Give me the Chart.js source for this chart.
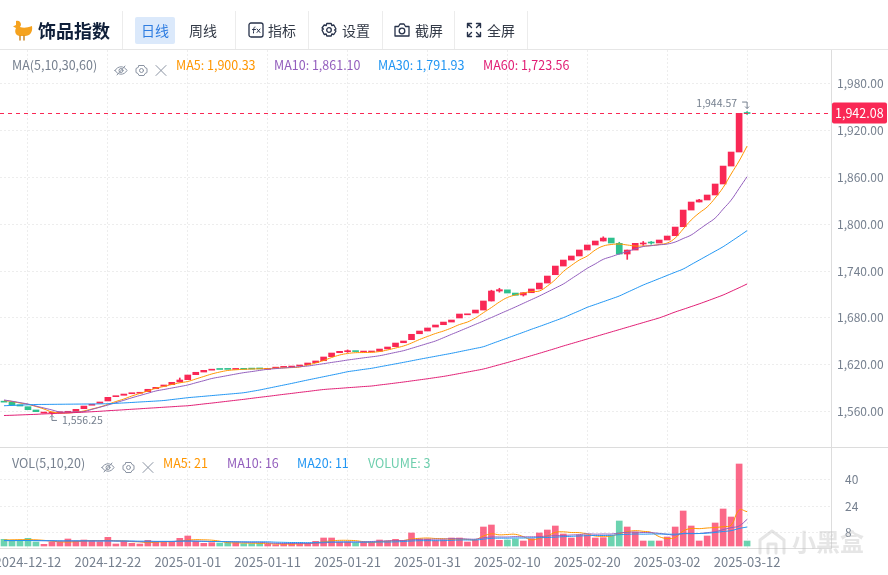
<!DOCTYPE html>
<html lang="zh">
<head>
<meta charset="utf-8">
<title>饰品指数</title>
<script src="https://cdn.jsdelivr.net/npm/chart.js@4"></script>
<style>
	html, body { margin: 0; padding: 0; background: #fff; overflow: hidden; }
	body { position: relative; width: 888px; height: 575px; font-family: 'Noto Sans CJK SC', 'Noto Sans', sans-serif; }
	canvas { position: absolute; left: 0; top: 0; }
	.abs { position: absolute; white-space: nowrap; }
	.div { position: absolute; top: 11px; width: 1px; height: 38px; background: #ececec; }
	.tool { position: absolute; top: 20px; font-size: 14px; line-height: 20px; color: #333a47; white-space: nowrap; }
	.leg { position: absolute; font-size: 12.5px; line-height: 16px; white-space: nowrap; color: #76808f; }
	svg { position: absolute; fill: none; stroke-linecap: round; stroke-linejoin: round; }
</style>
</head>
<body>
<canvas id="myChart" width="888" height="575"></canvas>

<div class="abs" style="left:0;top:49px;width:888px;height:1px;background:#e6e6e6"></div>
<div class="abs" style="left:0;top:447px;width:888px;height:1px;background:#dcdcdc"></div>

<svg style="left:11px;top:19px" width="23" height="22" viewBox="0 0 23 22">
	<path d="M5 2c3-1 5 1 5 4L9 8c3 1 7 1 12-1 1 6-2 10-7 10H9C5 17 3 13 5 9L2 7.500 5 6z" fill="#f5a21e" stroke="none"/>
	<path d="M9 17v4M13 17v4" stroke="#c9801a" stroke-width="1.400"/>
</svg>
<div class="abs" style="left:38px;top:17px;font-size:18px;line-height:26px;font-weight:700;color:#10203a">饰品指数</div>
<div class="div" style="left:122px"></div>
<div class="abs" style="left:135px;top:17px;width:40px;height:27px;border-radius:2px;background:#dbe9fb"></div>
<div class="tool" style="left:141px;color:#2f7de1">日线</div>
<div class="tool" style="left:189px">周线</div>
<div class="div" style="left:235px"></div>
<svg style="left:248px;top:22px" width="16" height="16" viewBox="0 0 16 16" stroke="#27324a" stroke-width="1.300">
	<rect x="1" y="1" width="14" height="14" rx="2"/>
	<path d="M7 5c-1.300 0-1.300 1-1.500 6M4.500 7.500h3M9 7l3 3.500M12 7l-3 3.500" stroke-width="1"/>
</svg>
<div class="tool" style="left:268px">指标</div>
<div class="div" style="left:308px"></div>
<svg style="left:321px;top:22px" width="16" height="16" viewBox="0 0 16 16" stroke="#27324a" stroke-width="1.300">
	<path d="M5.800 1.500h4.400l.6 2 2-.5 2.200 4-1.500 1 1.500 1-2.200 3.500-2-.5-.6 2H5.800l-.6-2-2 .5L1 8l1.500-1L1 6l2.200-3 2 .5z"/>
	<circle cx="8" cy="8" r="2.300"/>
</svg>
<div class="tool" style="left:342px">设置</div>
<div class="div" style="left:382px"></div>
<svg style="left:394px;top:22px" width="16" height="16" viewBox="0 0 16 16" stroke="#27324a" stroke-width="1.300">
	<path d="M1 4.500h3.500L6 2h4l1.500 2.500H15V14H1z"/>
	<circle cx="8" cy="9" r="2.800"/>
</svg>
<div class="tool" style="left:415px">截屏</div>
<div class="div" style="left:454px"></div>
<svg style="left:466px;top:22px" width="16" height="16" viewBox="0 0 16 16" stroke="#27324a" stroke-width="1.400">
	<path d="M1.500 5.500v-4h4M1.500 1.500l4 4M14.500 5.500v-4h-4M14.500 1.500l-4 4M1.500 10.500v4h4M1.500 14.500l4-4M14.500 10.500v4h-4M14.500 14.500l-4-4"/>
</svg>
<div class="tool" style="left:487px">全屏</div>
<div class="div" style="left:527px"></div>

<div class="leg" style="left:12px;top:57px">MA(5,10,30,60)</div>
<svg style="left:114px;top:64px" width="54" height="13" viewBox="0 0 54 13" stroke="#8a93a2" stroke-width="1">
	<path d="M1 6.500c3-5 9-5 12 0-3 5-9 5-12 0zM3 11l8-9"/>
	<circle cx="7" cy="6.500" r="2"/>
	<circle cx="27.500" cy="6.500" r="2"/>
	<path d="M25 1.500h5l1 2 2 1v4l-2 1-1 2h-5l-1-2-2-1v-4l2-1zM42 1.500l10 10M52 1.500l-10 10"/>
</svg>
<div class="leg" style="left:176px;top:57px;color:#ff9600">MA5: 1,900.33</div>
<div class="leg" style="left:274px;top:57px;color:#935ebd">MA10: 1,861.10</div>
<div class="leg" style="left:378px;top:57px;color:#2196f3">MA30: 1,791.93</div>
<div class="leg" style="left:483px;top:57px;color:#e11d74">MA60: 1,723.56</div>

<div class="leg" style="left:12px;top:455px">VOL(5,10,20)</div>
<svg style="left:101px;top:461px" width="54" height="13" viewBox="0 0 54 13" stroke="#8a93a2" stroke-width="1">
	<path d="M1 6.500c3-5 9-5 12 0-3 5-9 5-12 0zM3 11l8-9"/>
	<circle cx="7" cy="6.500" r="2"/>
	<circle cx="27.500" cy="6.500" r="2"/>
	<path d="M25 1.500h5l1 2 2 1v4l-2 1-1 2h-5l-1-2-2-1v-4l2-1zM42 1.500l10 10M52 1.500l-10 10"/>
</svg>
<div class="leg" style="left:163px;top:455px;color:#ff9600">MA5: 21</div>
<div class="leg" style="left:227px;top:455px;color:#935ebd">MA10: 16</div>
<div class="leg" style="left:297px;top:455px;color:#2196f3">MA20: 11</div>
<div class="leg" style="left:368px;top:455px;color:#6fcfae">VOLUME: 3</div>

<svg style="left:757px;top:529px" width="30" height="26" viewBox="0 0 30 26" stroke="rgba(190,190,190,0.4)" stroke-width="3">
	<path d="M3 24V11L15 2l12 9v13M11 24v-9h8v9"/>
</svg>
<div class="abs" style="left:792px;top:526px;font-size:24px;line-height:30px;font-weight:700;color:rgba(190,190,190,0.38)">小黑盒</div>

<script>
const dates = [
	'2024-12-09', '2024-12-10', '2024-12-11', '2024-12-12', '2024-12-13', '2024-12-14', '2024-12-15', '2024-12-16', '2024-12-17', '2024-12-18',
	'2024-12-19', '2024-12-20', '2024-12-21', '2024-12-22', '2024-12-23', '2024-12-24', '2024-12-25', '2024-12-26', '2024-12-27', '2024-12-28',
	'2024-12-29', '2024-12-30', '2024-12-31', '2025-01-01', '2025-01-02', '2025-01-03', '2025-01-04', '2025-01-05', '2025-01-06', '2025-01-07',
	'2025-01-08', '2025-01-09', '2025-01-10', '2025-01-11', '2025-01-12', '2025-01-13', '2025-01-14', '2025-01-15', '2025-01-16', '2025-01-17',
	'2025-01-18', '2025-01-19', '2025-01-20', '2025-01-21', '2025-01-22', '2025-01-23', '2025-01-24', '2025-01-25', '2025-01-26', '2025-01-27',
	'2025-01-28', '2025-01-29', '2025-01-30', '2025-01-31', '2025-02-01', '2025-02-02', '2025-02-03', '2025-02-04', '2025-02-05', '2025-02-06',
	'2025-02-07', '2025-02-08', '2025-02-09', '2025-02-10', '2025-02-11', '2025-02-12', '2025-02-13', '2025-02-14', '2025-02-15', '2025-02-16',
	'2025-02-17', '2025-02-18', '2025-02-19', '2025-02-20', '2025-02-21', '2025-02-22', '2025-02-23', '2025-02-24', '2025-02-25', '2025-02-26',
	'2025-02-27', '2025-02-28', '2025-03-01', '2025-03-02', '2025-03-03', '2025-03-04', '2025-03-05', '2025-03-06', '2025-03-07', '2025-03-08',
	'2025-03-09', '2025-03-10', '2025-03-11', '2025-03-12',
]
// empty room right of the last candle
const blankSlots = ['', '', '', '', '', '', '', '', '', '']

const opens = [
	1573, 1572.2, 1568.7, 1566.2, 1562, 1558, 1558, 1558.4, 1559, 1560,
	1563.6, 1568, 1570.5, 1573.5, 1579, 1580.8, 1582.8, 1583.4, 1585.4, 1589.2,
	1592.3, 1594.4, 1597.8, 1600.8, 1607.2, 1610.6, 1613, 1614.2, 1614.5, 1614,
	1615, 1614.8, 1614.9, 1614.1, 1615.6, 1616.6, 1617, 1618.3, 1620, 1622.6,
	1625.1, 1630.3, 1635.4, 1636.7, 1637.6, 1636.2, 1636.3, 1637.2, 1640.2, 1643.1,
	1648.2, 1652.1, 1659.7, 1663.2, 1668.3, 1671.3, 1674.7, 1679.9, 1684, 1686.3,
	1690.1, 1701.7, 1714.5, 1716, 1711.9, 1709.4, 1712.3, 1717.1, 1724.7, 1735.4,
	1746.5, 1754.2, 1759.4, 1767.1, 1773.5, 1778.6, 1782.4, 1775.6, 1761.9, 1767,
	1774.8, 1776.6, 1776, 1779.9, 1785.4, 1796.9, 1818.3, 1828.6, 1831.2, 1837.6,
	1851.7, 1874.7, 1892.7, 1942.6,
]
const closes = [
	1572, 1568, 1567, 1562.3, 1559.8, 1558.7, 1558.8, 1559, 1560, 1562.8,
	1567, 1569.2, 1572.2, 1578.2, 1580, 1582.4, 1583.7, 1584.2, 1588.5, 1591,
	1594, 1597.4, 1600.4, 1606.8, 1610.3, 1612.8, 1613.8, 1613.9, 1614, 1614.5,
	1614.1, 1614.4, 1614.6, 1615.4, 1616.7, 1617, 1617.5, 1619.6, 1622.2, 1624.8,
	1629.9, 1635, 1637.2, 1637.6, 1636.8, 1636.5, 1636.8, 1640.1, 1642.7, 1647.8,
	1650.4, 1659, 1663.2, 1667.1, 1670.9, 1674.7, 1677.3, 1685, 1685, 1690.1,
	1701.7, 1714.5, 1716.2, 1711.9, 1709, 1712.3, 1717.1, 1724.7, 1733.7, 1746.5,
	1754.2, 1759.4, 1767.1, 1773.5, 1778.6, 1782.4, 1776, 1761.9, 1767, 1775.6,
	1776, 1776, 1779.9, 1785, 1796.5, 1818.3, 1828.6, 1831.2, 1837.6, 1851.7,
	1874.7, 1892.7, 1942.3, 1942.08,
]
// only the bars whose wick shows past the body
const wickBars = [6, 22, 43, 61, 62, 65, 75, 77, 78, 80, 81, 87, 93]
const wickHighs = [1558.8, 1603, 1639, 1715.5, 1718, 1712.3, 1784, 1777, 1767, 1778, 1778, 1832, 1944.57]
const wickLows = [1556.25, 1597.8, 1635.8, 1701.7, 1713, 1708, 1778.6, 1761.9, 1755.1, 1773, 1774.5, 1828.6, 1941]

const ma5 = [
	1574.1, 1572.8, 1570.9, 1569.2, 1566.4, 1563.2, 1559.4, 1558.1, 1558.1, 1559.1,
	1560.7, 1563.2, 1565.8, 1569.2, 1572.8, 1576, 1579.9, 1583.1, 1586.3, 1589.8,
	1592.1, 1594.6, 1596.8, 1598.5, 1601.7, 1604.9, 1608.1, 1610.6, 1612.6, 1613.5,
	1614.1, 1614.5, 1614.8, 1615.1, 1615.5, 1616, 1616.3, 1617, 1619.6, 1622.2,
	1625.4, 1629.2, 1632.4, 1634.4, 1635.4, 1635.6, 1635.9, 1636.9, 1638.9, 1641.4,
	1644, 1647.8, 1652.3, 1656.2, 1660, 1663.2, 1667.1, 1671.5, 1674.7, 1679.9,
	1686.7, 1693.3, 1700.4, 1706.2, 1709.4, 1711.9, 1713.8, 1714.5, 1720.9, 1729.2,
	1739.5, 1747.2, 1754.2, 1759.4, 1767.1, 1772.2, 1774.1, 1774.7, 1773.5, 1772.2,
	1772.2, 1772.8, 1774.1, 1776, 1782.4, 1794, 1805.5, 1814.5, 1822.2, 1833.7,
	1847.2, 1864.5, 1881.2, 1900.33,
]
const ma10 = [
	1574.8, 1573.2, 1571.4, 1569.6, 1567, 1564.5, 1562, 1559.4, 1559.2, 1559.4,
	1559.9, 1562.7, 1565.5, 1568.3, 1571.3, 1574.4, 1577.6, 1580.5, 1583.4, 1586.3,
	1588.2, 1590.1, 1592, 1594, 1596.8, 1599.5, 1602.3, 1604.2, 1606.1, 1608,
	1609.8, 1611.2, 1612.7, 1614.1, 1615, 1615.8, 1616.6, 1617.5, 1618.3, 1619.8,
	1621.3, 1622.9, 1624.4, 1626, 1627.4, 1628.8, 1630.1, 1631.5, 1633.6, 1635.8,
	1638, 1641, 1644.1, 1647.2, 1650.4, 1654.6, 1658.9, 1663.1, 1667.4, 1671.7,
	1676, 1680.5, 1685, 1689.5, 1694, 1698.7, 1703.4, 1708.1, 1713.2, 1718.3,
	1723.5, 1730.2, 1736.9, 1743.6, 1749.3, 1755.1, 1758.5, 1762, 1765.2, 1768.4,
	1771.5, 1772.6, 1773.7, 1774.7, 1777.3, 1781.8, 1786.3, 1793.5, 1800.7, 1808,
	1819.5, 1831, 1846, 1861.1,
]
const ma30 = [
	1567.4, 1567.8, 1568.2, 1568.6, 1569, 1569.1, 1569.2, 1569.3, 1569.4, 1569.5,
	1569.6, 1569.7, 1569.8, 1570, 1570.5, 1571, 1571.6, 1572.2, 1572.8, 1573.4,
	1574.1, 1575.3, 1576.5, 1577.7, 1578.6, 1579.5, 1580.4, 1581.3, 1582.2, 1583.1,
	1584.1, 1585.8, 1587.6, 1589.7, 1591.8, 1593.9, 1596, 1598.2, 1600.4, 1602.5,
	1604.6, 1606.7, 1608.8, 1611, 1612.5, 1614, 1615.4, 1617.3, 1619.2, 1621.1,
	1623, 1625, 1627, 1628.9, 1630.8, 1632.7, 1634.6, 1636.7, 1638.8, 1640.9,
	1643.1, 1646.8, 1650.5, 1654.2, 1657.9, 1661.6, 1665.4, 1669, 1672.7, 1676.5,
	1680.3, 1684.7, 1689.1, 1693.6, 1697.2, 1700.8, 1704.4, 1708.1, 1712.8, 1717.5,
	1722.2, 1726.3, 1730.4, 1734.5, 1738.6, 1742.7, 1748.4, 1754.1, 1759.8, 1765.5,
	1771.3, 1778, 1784.9, 1791.93,
]
const ma60 = [
	1554.9, 1555.2, 1555.6, 1556, 1556.4, 1556.9, 1557.3, 1557.8, 1558.2, 1558.7,
	1559.2, 1559.7, 1560.3, 1561, 1561.6, 1562.2, 1562.9, 1563.5, 1564.2, 1564.8,
	1565.5, 1566.1, 1566.8, 1567.4, 1568.5, 1569.7, 1570.8, 1572, 1573.2, 1574.4,
	1575.6, 1576.9, 1578.2, 1579.4, 1580.7, 1582, 1583.2, 1584.5, 1585.7, 1587,
	1588.2, 1589, 1589.7, 1590.5, 1591.2, 1592, 1592.7, 1594, 1595.2, 1596.5,
	1597.8, 1599.2, 1600.6, 1602, 1603.5, 1605, 1606.8, 1608.7, 1610.6, 1612.5,
	1614.5, 1617.2, 1620, 1622.8, 1625.7, 1628.6, 1631.6, 1634.6, 1637.7, 1640.8,
	1644, 1647, 1650, 1653, 1656, 1659, 1662, 1665, 1668, 1671,
	1674, 1677, 1680, 1683.7, 1687.6, 1691, 1694.5, 1698, 1701.7, 1705.5,
	1709.4, 1714, 1718.7, 1723.56,
]

const volumes = [
	4, 3.4, 3.2, 4.6, 2.4, 1, 2.4, 2.4, 4.2, 3,
	3.6, 2.8, 2.6, 5.2, 1.2, 2.8, 1.6, 1.2, 3.4, 2.6,
	2.6, 2.8, 4.6, 6, 2.8, 1.6, 2, 1.8, 2, 2,
	1.4, 1.4, 1.6, 1, 0.8, 1, 1.4, 1.2, 1.6, 2.8,
	4.8, 4.8, 2.4, 2.4, 1.8, 2.2, 2.2, 3.6, 3, 4,
	3.4, 7.8, 4.2, 4.2, 3.2, 3.6, 4.8, 4.8, 2.4, 3.4,
	11.4, 12.6, 3.4, 3.6, 4.2, 3, 4.4, 7.8, 9.6, 12,
	7.2, 4.8, 6.6, 6.6, 4.8, 5, 6, 15, 11.4, 8.4,
	3, 3, 3, 5.4, 11.4, 21, 12, 3, 6, 13.8,
	22.2, 17.4, 49.2, 3,
]
const volMa5 = [
	3.6, 3.7, 3.8, 3.8, 3.7, 3.4, 2.9, 2.5, 2.4, 2.6,
	3, 3.3, 3.2, 3.4, 3.1, 3.1, 2.6, 2.5, 2, 2.3,
	2.5, 2.6, 3, 3.5, 3.8, 3.7, 3.5, 2.9, 2, 1.9,
	1.8, 1.7, 1.6, 1.5, 1.2, 1.2, 1.1, 1.3, 1.4, 1.8,
	2.5, 3.1, 3.4, 3.4, 3.2, 2.6, 2.2, 2.5, 2.9, 3.2,
	3.3, 4.2, 4.6, 4.8, 4.5, 4.4, 4.1, 4.2, 3.9, 3.8,
	6, 7.3, 6.7, 6.9, 7, 5.6, 3.7, 4.6, 6, 8.2,
	8.5, 8.1, 8, 7.2, 6, 5.8, 6, 7.4, 8.6, 9.2,
	8.8, 8.2, 5.6, 4.5, 5.1, 9, 10.5, 10.4, 10.8, 11.1,
	11.6, 12.5, 21.6, 20.6,
]
const volMa10 = [
	3.2, 3.2, 3.3, 3.3, 3.3, 3.2, 3.1, 3, 3, 3,
	3, 3.1, 3.1, 3.2, 3, 2.9, 2.8, 2.6, 2.5, 2.6,
	2.7, 2.7, 2.9, 3.1, 2.9, 2.8, 2.7, 2.7, 2.6, 2.5,
	2.3, 2.2, 2.2, 1.9, 1.6, 1.5, 1.5, 1.5, 1.5, 1.7,
	1.9, 2.2, 2.3, 2.4, 2.4, 2.5, 2.7, 2.9, 3.1, 3.3,
	3.3, 3.7, 4, 4, 4.1, 4.1, 4.4, 4.4, 4.2, 4.1,
	4.9, 5.4, 5.4, 5.4, 5.6, 5.5, 5.5, 5.6, 6, 6.2,
	6.3, 6.6, 6.8, 7.3, 7.1, 7.2, 7.2, 7.8, 8.2, 8.3,
	8.1, 8, 7.6, 7, 6.6, 7.5, 7.6, 7.5, 8, 8.6,
	9.8, 11, 12, 16,
]
const volMa20 = [
	3.3, 3.3, 3.3, 3.3, 3.2, 3.2, 3.2, 3.1, 3.1, 3.1,
	3.1, 3, 3, 3, 3, 3, 3, 2.9, 2.9, 2.8,
	2.8, 2.8, 2.9, 2.9, 2.9, 2.8, 2.7, 2.7, 2.6, 2.5,
	2.5, 2.5, 2.5, 2.5, 2.3, 2.2, 2.1, 2.1, 2, 2.1,
	2.3, 2.4, 2.4, 2.4, 2.3, 2.3, 2.3, 2.4, 2.4, 2.5,
	2.7, 3, 3.2, 3.2, 3.2, 3.2, 3.4, 3.6, 3.6, 3.6,
	4.1, 4.6, 4.7, 4.7, 4.8, 4.8, 4.9, 5, 5.1, 5.3,
	5.6, 5.8, 6, 6.2, 6.3, 6.3, 6.4, 6.8, 7, 7.2,
	7.1, 7.2, 7.2, 7.1, 7.1, 7.4, 7.4, 7.5, 7.7, 8.1,
	8.7, 9.2, 10.5, 11.4,
]

const xTickBars = [3, 13, 23, 33, 43, 53, 63, 73, 83, 93]
const priceTicks = [1560, 1620, 1680, 1740, 1800, 1860, 1920, 1980]
const volTicks = [8, 24, 40]
const lastPrice = 1942.08
const highPrice = 1944.57
const highBar = 93
const lowPrice = 1556.25
const lowBar = 6

const UP = '#F92855'
const DOWN = '#2DC08E'
const TEXT = '#76808F'
const GRID = '#EDEDED'
const AXIS = '#DDDDDD'

const money = (v) => v.toLocaleString('en-US', { minimumFractionDigits: 2, maximumFractionDigits: 2 })
const isUp = dates.map((d, i) => closes[i] >= opens[i])

const bodies = dates.map((d, i) => [opens[i], closes[i]])
const wicks = dates.map(() => null)
wickBars.forEach((bar, i) => {
	wicks[bar] = [wickLows[i], wickHighs[i]]
})

const maLine = (data, color, yAxisID) => ({
	type: 'line',
	data,
	yAxisID,
	borderColor: color,
	borderWidth: 1,
	pointRadius: 0,
	tension: 0.4,
	order: 1,
})

const priceMarks = {
	id: 'priceMarks',
	afterDatasetsDraw(chart) {
		const { ctx, chartArea, scales } = chart
		const y = scales.y.getPixelForValue(lastPrice)
		ctx.save()
		ctx.strokeStyle = UP
		ctx.lineWidth = 1.2
		ctx.setLineDash([4, 4])
		ctx.beginPath()
		ctx.moveTo(0, y)
		ctx.lineTo(chartArea.right, y)
		ctx.stroke()
		ctx.setLineDash([])
		ctx.lineWidth = 1

		ctx.fillStyle = UP
		ctx.beginPath()
		ctx.roundRect(chartArea.right + 1, y - 11, 55, 21, 2)
		ctx.fill()
		ctx.fillStyle = '#fff'
		ctx.font = "12.5px 'Noto Sans CJK SC', sans-serif"
		ctx.textAlign = 'left'
		ctx.textBaseline = 'middle'
		ctx.fillText(money(lastPrice), chartArea.right + 4, y)

		ctx.fillStyle = TEXT
		ctx.strokeStyle = TEXT
		ctx.font = "10.5px 'Noto Sans CJK SC', sans-serif"
		// highest price, arrow points down at the candle
		const hx = scales.x.getPixelForValue(highBar)
		const hy = scales.y.getPixelForValue(highPrice)
		ctx.textAlign = 'right'
		ctx.fillText(money(highPrice), hx - 10, hy - 9)
		ctx.beginPath()
		ctx.moveTo(hx - 5, hy - 9.5)
		ctx.lineTo(hx, hy - 9.5)
		ctx.lineTo(hx, hy - 3)
		ctx.moveTo(hx - 2, hy - 5)
		ctx.lineTo(hx, hy - 3)
		ctx.lineTo(hx + 2, hy - 5)
		ctx.stroke()
		// lowest price, arrow points up at the candle
		const lx = scales.x.getPixelForValue(lowBar)
		const ly = scales.y.getPixelForValue(lowPrice)
		ctx.textAlign = 'left'
		ctx.fillText(money(lowPrice), lx + 10, ly + 6)
		ctx.beginPath()
		ctx.moveTo(lx + 5, ly + 6)
		ctx.lineTo(lx, ly + 6)
		ctx.lineTo(lx, ly + 1)
		ctx.moveTo(lx - 2, ly + 3)
		ctx.lineTo(lx, ly + 1)
		ctx.lineTo(lx + 2, ly + 3)
		ctx.stroke()
		ctx.restore()
	},
}

const config = {
	type: 'bar',
	data: {
		labels: dates.concat(blankSlots),
		datasets: [
			maLine(ma60, '#E11D74', 'y'),
			maLine(ma30, '#2196F3', 'y'),
			maLine(ma10, '#935EBD', 'y'),
			maLine(ma5, '#FF9600', 'y'),
			maLine(volMa20, '#2196F3', 'yVol'),
			maLine(volMa10, '#935EBD', 'yVol'),
			maLine(volMa5, '#FF9600', 'yVol'),
			{
				data: bodies,
				yAxisID: 'y',
				backgroundColor: isUp.map((u) => (u ? UP : DOWN)),
				barThickness: 6,
				minBarLength: 1,
				grouped: false,
				order: 2,
			},
			{
				data: wicks,
				yAxisID: 'y',
				backgroundColor: isUp.map((u) => (u ? UP : DOWN)),
				barThickness: 1,
				grouped: false,
				order: 3,
			},
			{
				data: volumes,
				yAxisID: 'yVol',
				backgroundColor: isUp.map((u) => (u ? 'rgba(249,40,85,0.7)' : 'rgba(45,192,142,0.7)')),
				barThickness: 6,
				grouped: false,
				order: 4,
			},
		],
	},
	options: {
		responsive: false,
		animation: false,
		events: [],
		layout: { autoPadding: false, padding: { top: 50, left: 0, right: 0, bottom: 0 } },
		font: { family: "'Noto Sans CJK SC', sans-serif" },
		plugins: {
			legend: { display: false },
			tooltip: { enabled: false },
		},
		scales: {
			x: {
				offset: true,
				afterBuildTicks: (scale) => {
					scale.ticks = xTickBars.map((value) => ({ value }))
				},
				afterFit: (scale) => {
					scale.height = 27
					// first label is cut by the page edge, no room kept for it
					scale.paddingLeft = 0
					scale.paddingRight = 0
				},
				grid: { color: GRID, offset: false, drawTicks: false },
				border: { color: AXIS, dash: [2, 2] },
				ticks: {
					autoSkip: false,
					maxRotation: 0,
					color: TEXT,
					padding: 6,
					font: { size: 13 },
				},
			},
			y: {
				position: 'right',
				stack: 'panes',
				stackWeight: 397,
				min: 1514.5,
				max: 2023.5,
				afterBuildTicks: (scale) => {
					scale.ticks = priceTicks.map((value) => ({ value }))
				},
				afterFit: (scale) => {
					scale.width = 57
				},
				grid: { color: GRID, drawTicks: false },
				border: { color: AXIS, dash: [2, 2] },
				ticks: {
					color: TEXT,
					padding: 6,
					font: { size: 12 },
					callback: (v) => money(v),
				},
			},
			yVol: {
				position: 'right',
				stack: 'panes',
				stackWeight: 101,
				min: -1.2,
				max: 59.4,
				afterBuildTicks: (scale) => {
					scale.ticks = volTicks.map((value) => ({ value }))
				},
				afterFit: (scale) => {
					scale.width = 57
				},
				grid: { color: GRID, drawTicks: false },
				border: { color: AXIS, dash: [2, 2] },
				ticks: {
					color: TEXT,
					padding: 14,
					font: { size: 12 },
					callback: (v) => String(v),
				},
			},
		},
	},
	plugins: [priceMarks],
}

const myChart = new Chart(document.getElementById('myChart'), config)
</script>
</body>
</html>
